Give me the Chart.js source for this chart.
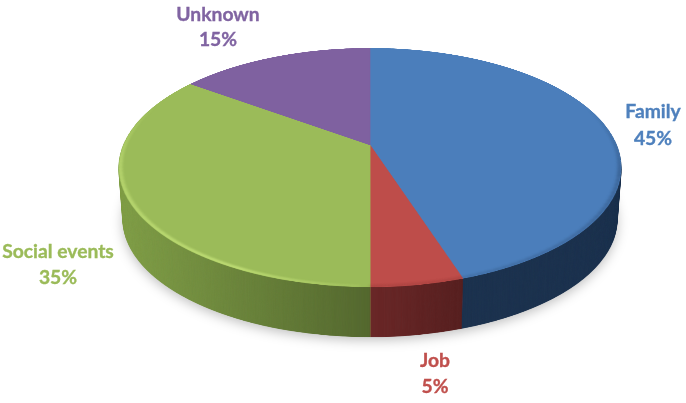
<!DOCTYPE html>
<html>
<head>
<meta charset="utf-8">
<style>html,body{margin:0;padding:0;background:#fff;overflow:hidden}canvas{display:block}</style>
<script src="https://cdn.jsdelivr.net/npm/chart.js@4"></script>
</head>
<body>
<canvas id="c" width="686" height="403"></canvas>
<script>
// ---- data ----
const categories = ['Family', 'Job', 'Social events', 'Unknown'];
const shares = [45, 5, 35, 15];
const topColors = ['#4b7ebb', '#be4d4a', '#9bbb59', '#7f61a0'];
const wallColors = ['#1e3450', '#6e2a2a', '#819f49', '#4f3c66'];
const labelColors = ['#4f81bd', '#c0504d', '#9bbb59', '#8064a2'];

// ---- look of the 3-D view ----
const VIEW = {cx: 370, cy: 145, k: -0.188, A: 115.2, B: 246.5, top: -97, bottom: 143, depth: 50, shrink: 0.016};
const SS = 3, FLAT = 2;
const labelPos = [[653, 112, 139], [435, 361, 387], [58, 252, 278], [218, 15, 40]];

function makeCanvas(w, h) { const c = document.createElement('canvas'); c.width = w; c.height = h; return c; }

function flatDisc(arcs, colors, rim) {
  const R = arcs[0].outerRadius * FLAT, S = Math.ceil(2 * R + 8), C = S / 2;
  const cv = makeCanvas(S, S), g = cv.getContext('2d');
  g.save();
  g.translate(C, C); g.scale(FLAT, FLAT); g.translate(-arcs[0].x, -arcs[0].y);
  arcs.forEach((arc, i) => {
    const o = arc.options, bg = o.backgroundColor, bc = o.borderColor, bw = o.borderWidth;
    o.backgroundColor = colors[i]; o.borderColor = colors[i]; o.borderWidth = 0.6;
    arc.draw(g);
    o.backgroundColor = bg; o.borderColor = bc; o.borderWidth = bw;
  });
  g.restore();
  if (rim) {
    g.save();
    g.beginPath(); g.arc(C, C, R, 0, Math.PI * 2); g.clip();
    g.filter = 'blur(2px)';
    g.lineWidth = 6;
    rim.forEach(([from, to, color, a0, a1]) => {
      const n = 30;
      for (let j = 0; j < n; j++) {
        const t0 = from + (to - from) * j / n, t1 = from + (to - from) * (j + 1.1) / n;
        g.globalAlpha = a0 + (a1 - a0) * j / n;
        g.strokeStyle = color;
        g.beginPath();
        g.arc(C, C, R - 2, (t0 - 90) * Math.PI / 180, (t1 - 90) * Math.PI / 180);
        g.stroke();
      }
    });
    g.restore();
  }
  return {cv, R, C, S};
}

function warp(flat, W, H) {
  const buf = makeCanvas(W * SS, H * SS), g = buf.getContext('2d');
  const {cx, cy, k, A, B, top, bottom} = VIEW;
  g.imageSmoothingEnabled = true; g.imageSmoothingQuality = 'high';
  for (let row = Math.floor((cy + top - 2) * SS); row < (cy + bottom + 2) * SS; row++) {
    const Y = (row + 0.5) / SS - cy;
    const v = Y / (A - k * Y);
    const w = 1 + k * v;
    const sy = flat.C + v * flat.R;
    const wd = flat.S / flat.R * B / w * SS;
    g.drawImage(flat.cv, 0, sy - 0.5, flat.S, 1, cx * SS - wd / 2, row, wd, 1);
  }
  return buf;
}

const threeD = {
  id: 'threeD',
  beforeDatasetsDraw(chart) {
    const arcs = chart.getDatasetMeta(0).data;
    const ctx = chart.ctx, W = chart.width, H = chart.height;
    const {cx, cy, depth, shrink} = VIEW;
    const rim = [
      [182, 205, '#cdeb80', 0.15, 0.75],
      [205, 262, '#cdeb80', 0.75, 0.5],
      [262, 292, '#cdeb80', 0.5, 0.0],
      [70, 105, '#203a5c', 0.0, 0.4],
      [105, 162, '#2a476e', 0.4, 0.2],
      [162, 180, '#7c2f2d', 0.2, 0.2]
    ];
    const topBuf = warp(flatDisc(arcs, topColors, rim), W, H);
    const wallBuf = warp(flatDisc(arcs, wallColors, null), W, H);
    // shading of the wall from left to right
    const wg = wallBuf.getContext('2d');
    wg.globalCompositeOperation = 'source-atop';
    let gr = wg.createLinearGradient(119 * SS, 0, 370 * SS, 0);
    gr.addColorStop(0, 'rgba(0,0,0,0)'); gr.addColorStop(1, 'rgba(0,0,0,0.34)');
    wg.fillStyle = gr; wg.fillRect(0, 0, 370 * SS, H * SS);
    gr = wg.createLinearGradient(370 * SS, 0, 463 * SS, 0);
    gr.addColorStop(0, 'rgba(0,0,0,0.02)'); gr.addColorStop(1, 'rgba(0,0,0,0.2)');
    wg.fillStyle = gr; wg.fillRect(370 * SS, 0, 93 * SS, H * SS);

    const place = (buf, t, extra) => {
      const s = 1 - shrink * t;
      const dy = depth * t + extra;
      ctx.drawImage(buf, cx - cx * s, cy - cy * s + dy + VIEW.bottom * shrink * t, W * s, H * s);
    };
    // soft shadow under the disc
    ctx.save();
    ctx.filter = 'brightness(0) blur(6px)';
    ctx.globalAlpha = 0.25;
    place(wallBuf, 1, 3);
    ctx.restore();
    // side wall, back to front
    for (let i = depth * 2; i >= 1; i--) place(wallBuf, i / (depth * 2), 0);
    ctx.drawImage(topBuf, 0, 0, W, H);
    return false;
  },
  afterDraw(chart) {
    const ctx = chart.ctx;
    ctx.save();
    ctx.textAlign = 'center'; ctx.textBaseline = 'middle';
    ctx.font = 'bold 19.3px Lato';
    ctx.filter = 'blur(0.4px)';
    categories.forEach((name, i) => {
      ctx.fillStyle = labelColors[i];
      ctx.strokeStyle = labelColors[i];
      ctx.lineWidth = 0.35;
      ctx.fillText(name, labelPos[i][0], labelPos[i][1]);
      ctx.strokeText(name, labelPos[i][0], labelPos[i][1]);
      ctx.fillText(shares[i] + '%', labelPos[i][0], labelPos[i][2]);
      ctx.strokeText(shares[i] + '%', labelPos[i][0], labelPos[i][2]);
    });
    ctx.restore();
  }
};

new Chart(document.getElementById('c'), {
  type: 'pie',
  data: {labels: categories, datasets: [{data: shares, backgroundColor: topColors, borderWidth: 0}]},
  options: {
    responsive: false, animation: false,
    plugins: {legend: {display: false}, tooltip: {enabled: false}}
  },
  plugins: [threeD]
});
</script>
</body>
</html>
